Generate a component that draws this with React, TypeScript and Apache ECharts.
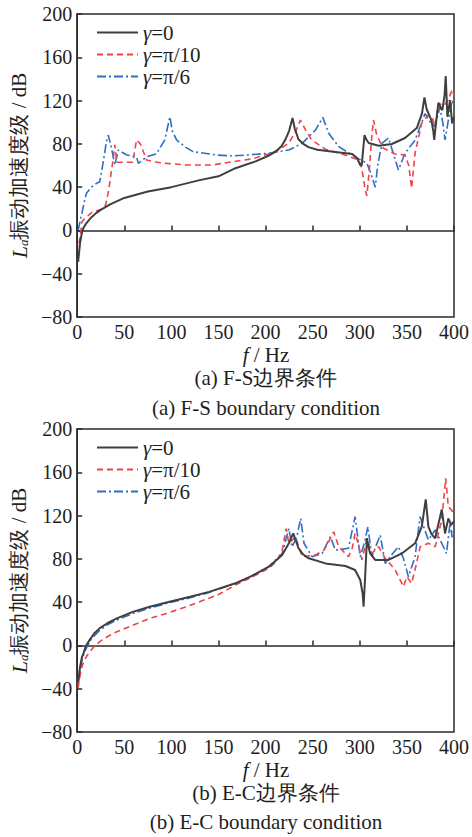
import React, { useEffect, useRef } from "react";
import * as echarts from "echarts";

// ---- Data (f in Hz, La in dB) ----
const xTicks = [0, 50, 100, 150, 200, 250, 300, 350, 400];
const yTicks = [-80, -40, 0, 40, 80, 120, 160, 200];
const legendLabels = ["0", "π/10", "π/6"];

// (a) F-S boundary condition
const fsGamma0: number[][] = [[1,-29],[3,-12],[5,-2],[7,3],[10,7],[15,12],[20,16],[25,19],[35,24],[50,30],[75,36],[100,40],[130,46.5],[150,50],[168,57.5],[190,64],[203,69],[211,73],[217,78],[221,84],[225,92],[228.6,104],[231,94],[235,84],[240,80],[245.5,77],[255,74.5],[274,72.5],[292,70.6],[297,67],[300.5,60.5],[302,60],[305,88],[307,84],[309.4,80.8],[320,78.3],[334,79.9],[348,85.4],[360.5,94.6],[366,108],[368.6,123],[371,112],[376,102],[378,92],[379,83.6],[381,100],[383.4,117.7],[387.6,111],[390,125],[391.2,142.7],[393,105],[395.8,120.5],[398,99],[400,105]];
const fsGammaPi10: number[][] = [[2,-12],[4,0],[5,8],[8,11],[12,14],[16,17],[20,18],[24,19],[28,21],[30,23],[33,35],[35,46.6],[38,65],[40,79],[42,63],[50,63],[59,63],[63,83.6],[67,80],[73.7,65],[85,63],[95,62],[116,60.5],[144,60.5],[165,63.5],[185,66],[203,70.6],[215,75],[224.7,80.8],[231.7,91],[237,102],[243,92],[249,83.6],[263.5,75],[284.6,69.7],[298.8,65],[302,58],[305.8,37.4],[307.5,32],[310,55],[313,90],[314.6,102],[318,88],[325,76],[337.6,70.6],[348,69.7],[352,60],[355,39],[358.7,71.6],[365.8,99.3],[372.8,106.7],[377,104],[380,96],[383.4,117.7],[388.7,115],[394,120.5],[398,130],[400,125]];
const fsGammaPi6: number[][] = [[1,0],[3,8],[5,16],[8,28],[10,34.6],[15,40],[21,43.8],[24,45],[28,65],[31,82],[33,88],[36,78],[40,60.5],[43.7,74.3],[52.6,69.7],[63,68],[65,62],[73.7,68],[84,70.6],[93,83.6],[98.4,105],[101,92],[105.5,83.6],[115,77],[123,72.8],[148,69.7],[165,68.8],[185,70],[203,71.3],[224.7,74.3],[238.8,80.5],[253,92.8],[260.7,104.5],[267,89.8],[277.6,77.4],[295,68],[307.6,62],[312,52],[316.4,40],[319,60],[323.5,80.5],[330.5,85.4],[336,70],[341,55.9],[348,71.3],[358.7,83.6],[365,98],[369.3,108],[375,100],[380,96],[385,114],[388,100],[390.5,83.6],[395.8,111],[398,120],[400,115]];

// (b) E-C boundary condition
const ecGamma0: number[][] = [[1,-33.5],[3,-20],[5,-11],[6.7,-7.3],[9,-1],[12,3.5],[18,11],[24,16],[32,20.5],[42,25],[59,31],[77,35.8],[98,40.4],[120,45],[140,49.5],[168,57.4],[185,64],[203.5,72.8],[217.6,83.6],[224.7,94.4],[229.3,103.5],[232,97],[235,89.8],[240,84],[245.8,80.5],[263.5,75.8],[284.7,73.4],[295,69.7],[300.5,60.5],[303,48],[304,35.8],[305.5,60],[307.6,99],[309,92],[311,85],[316.4,79],[330.5,79],[344.6,85],[358.7,94.4],[365.8,109.7],[370,135],[372.8,109.7],[376,103],[380,99],[387,125.7],[390.5,103.5],[394,117.4],[397,111.3],[400,115]];
const ecGammaPi10: number[][] = [[1,-39.3],[3,-28],[5,-19.6],[8,-13],[12,-7.3],[18,-1],[24,3.5],[32,8],[42,12.7],[59.6,18.9],[77,25],[95,29.6],[116,35.8],[130,40.4],[150,47],[168,55.8],[185,63],[203.5,71.3],[212,78],[217.6,88],[221.9,108],[224.7,94.4],[228,97],[231.7,100.5],[238.8,82],[253,83.6],[262,88],[267,95.9],[272.3,105],[277.6,91.2],[288,82],[292,90],[295,103.5],[298,95],[302.3,79],[307.6,99],[312.8,85],[320,91.2],[327,80.5],[337.6,69.7],[346.3,54.3],[350,63.5],[355,57.4],[360,75],[364,91.2],[372.8,94.4],[380,91.2],[387,116],[391.2,154.4],[394,128],[397.5,125],[400,120]];
const ecGammaPi6: number[][] = [[1,-36],[3,-24],[5,-14],[7,-8],[10,-2],[15,6],[24,14],[32,19],[42,23.5],[59,29.5],[77,34.5],[98,39.5],[120,44],[140,49],[168,57.4],[185,64],[203.5,72.8],[217.6,85],[224.7,108],[228,91],[233,100],[237.3,117.4],[240.8,94.4],[249.3,82],[260,85],[268.8,100.5],[274,88],[288,89.8],[295,119],[300.5,82],[305,95],[308.6,109.7],[312.8,82],[321.7,102],[327,75.8],[335,85],[341,91.2],[346.3,80.5],[351.6,63.5],[358.7,82],[364,119],[372.8,97.5],[380,106.7],[387,94.4],[392,85],[395.8,113],[398,100],[400,108]];

const SERIF = "Liberation Serif, serif";
const AXIS_COLOR = "#2b2b2b";
const TEXT_COLOR = "#1e1e1e";
const COLORS = ["#3f3f3f", "#f0434a", "#2e6fc4"];
const LINE_TYPES: any[] = ["solid", [6, 4], [9, 3, 2, 3]];
const LINE_WIDTHS = [2, 1.6, 1.6];

export default function App() {
  const ref = useRef<HTMLDivElement>(null);
  useEffect(() => {
    if (!ref.current) return;
    const chart = echarts.init(ref.current, undefined, { renderer: "svg" });
    const grids = [
      { left: 77, top: 14, width: 378, height: 303 },
      { left: 77, top: 429, width: 378, height: 303 },
    ];
    const mkX = (gi: number) => ({
      type: "value",
      gridIndex: gi,
      min: xTicks[0],
      max: xTicks[xTicks.length - 1],
      interval: xTicks[1] - xTicks[0],
      axisLine: { show: true, lineStyle: { color: AXIS_COLOR, width: 1.5 } },
      axisTick: { show: true, inside: true, length: 5, lineStyle: { color: AXIS_COLOR, width: 1.5 } },
      axisLabel: { margin: 5, fontFamily: SERIF, fontSize: 20, color: TEXT_COLOR },
      splitLine: { show: false },
    });
    const mkY = (gi: number) => ({
      type: "value",
      gridIndex: gi,
      min: yTicks[0],
      max: yTicks[yTicks.length - 1],
      interval: yTicks[1] - yTicks[0],
      axisLine: { show: true, lineStyle: { color: AXIS_COLOR, width: 1.5 } },
      axisTick: { show: true, inside: true, length: 5, lineStyle: { color: AXIS_COLOR, width: 1.5 } },
      axisLabel: {
        margin: 5,
        fontFamily: SERIF,
        fontSize: 20,
        color: TEXT_COLOR,
        formatter: (v: number) => String(v).replace("-", "−"),
      },
      splitLine: { show: false },
      name: "{i|L}{s|a}{n|振动加速度级 / dB}",
      nameLocation: "middle",
      nameRotate: 90,
      nameGap: 46,
      nameTextStyle: {
        fontFamily: SERIF,
        fontSize: 21,
        color: TEXT_COLOR,
        rich: {
          i: { fontFamily: SERIF, fontSize: 22, fontStyle: "italic", color: TEXT_COLOR },
          s: { fontFamily: SERIF, fontSize: 13, fontStyle: "italic", color: TEXT_COLOR, verticalAlign: "bottom", padding: [9, 0, 0, 0] },
          n: { fontFamily: SERIF, fontSize: 21, color: TEXT_COLOR },
        },
      },
    });
    const datasets = [
      [fsGamma0, fsGammaPi10, fsGammaPi6],
      [ecGamma0, ecGammaPi10, ecGammaPi6],
    ];
    const series: any[] = [];
    datasets.forEach((group, gi) => {
      group.forEach((d, si) => {
        series.push({
          name: `g${gi}s${si}`,
          type: "line",
          xAxisIndex: gi,
          yAxisIndex: gi,
          data: d,
          symbol: "none",
          showSymbol: false,
          smooth: false,
          z: 3 - si,
          lineStyle: { color: COLORS[si], width: LINE_WIDTHS[si], type: LINE_TYPES[si] },
          itemStyle: { color: COLORS[si] },
        });
      });
    });
    const mkLegend = (gi: number, top: number) => ({
      data: [0, 1, 2].map((si) => `g${gi}s${si}`),
      orient: "vertical",
      left: 96,
      top,
      padding: 0,
      itemWidth: 41,
      itemHeight: 14,
      itemGap: 1,
      selectedMode: false,
      itemStyle: { opacity: 0 },
      formatter: (name: string) => {
        const si = Number(name.slice(-1));
        return `{i|γ}{n|=${legendLabels[si]}}`;
      },
      textStyle: {
        fontFamily: SERIF,
        fontSize: 21,
        lineHeight: 20,
        color: TEXT_COLOR,
        rich: {
          i: { fontFamily: SERIF, fontSize: 21, lineHeight: 20, fontStyle: "italic", color: TEXT_COLOR },
          n: { fontFamily: SERIF, fontSize: 21, lineHeight: 20, color: TEXT_COLOR },
        },
      },
    });
    const captions = [
      { y: 355, text: "{i|f}{n| / Hz}" },
      { y: 378, text: "{n|(a) F-S边界条件}" },
      { y: 408, text: "{n|(a) F-S boundary condition}" },
      { y: 770, text: "{i|f}{n| / Hz}" },
      { y: 793, text: "{n|(b) E-C边界条件}" },
      { y: 822, text: "{n|(b) E-C boundary condition}" },
    ];
    const graphic = captions.map((c) => ({
      type: "text",
      x: 266,
      y: c.y,
      style: {
        text: c.text,
        align: "center",
        verticalAlign: "middle",
        fontFamily: SERIF,
        fontSize: 21,
        fill: TEXT_COLOR,
        rich: {
          i: { fontFamily: SERIF, fontSize: 21, fontStyle: "italic", fill: TEXT_COLOR },
          n: { fontFamily: SERIF, fontSize: 21, fill: TEXT_COLOR },
        },
      },
    }));
    chart.setOption({
      animation: false,
      backgroundColor: "#ffffff",
      grid: grids.map((g) => ({ ...g, show: true, borderColor: AXIS_COLOR, borderWidth: 1.5, backgroundColor: "transparent" })),
      xAxis: [mkX(0), mkX(1)],
      yAxis: [mkY(0), mkY(1)],
      legend: [mkLegend(0, 22), mkLegend(1, 437)],
      series,
      graphic,
    });
    return () => chart.dispose();
  }, []);
  return (
    <div
      ref={ref}
      style={{ position: "fixed", left: 0, top: 0, width: 472, height: 837, background: "#fff" }}
    />
  );
}
